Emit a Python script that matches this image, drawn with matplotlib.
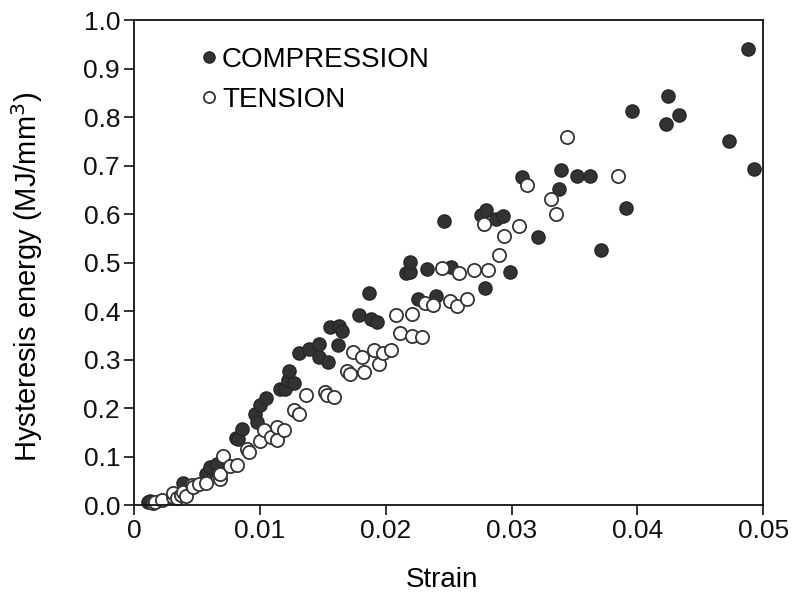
import numpy as np
from matplotlib import pyplot as plt

# compression data (filled markers)
comp_strain = [0.0011, 0.0013, 0.0039, 0.0057, 0.0060, 0.0066, 0.0081, 0.0083, 0.0086, 0.0096,
               0.0098, 0.0100, 0.0105, 0.0116, 0.0120, 0.0122, 0.0127, 0.0123, 0.0131, 0.0139,
               0.0147, 0.0147, 0.0154, 0.0156, 0.0163, 0.0165, 0.0162, 0.0179, 0.0187, 0.0188,
               0.0193, 0.0216, 0.0219, 0.0219, 0.0226, 0.0233, 0.0240, 0.0246, 0.0252, 0.0276,
               0.0279, 0.0280, 0.0288, 0.0293, 0.0299, 0.0308, 0.0321, 0.0338, 0.0339, 0.0352,
               0.0362, 0.0371, 0.0391, 0.0396, 0.0423, 0.0424, 0.0433, 0.0473, 0.0488, 0.0493]
comp_energy = [0.007, 0.009, 0.046, 0.065, 0.079, 0.085, 0.138, 0.136, 0.156, 0.187,
               0.172, 0.207, 0.220, 0.239, 0.239, 0.258, 0.251, 0.276, 0.313, 0.322,
               0.306, 0.332, 0.296, 0.368, 0.370, 0.360, 0.331, 0.393, 0.437, 0.384,
               0.377, 0.479, 0.480, 0.501, 0.425, 0.488, 0.432, 0.586, 0.491, 0.599,
               0.447, 0.609, 0.590, 0.596, 0.481, 0.678, 0.553, 0.653, 0.692, 0.680,
               0.680, 0.527, 0.614, 0.813, 0.787, 0.845, 0.805, 0.751, 0.942, 0.694]

# tension data (open markers)
ten_strain = [0.0015, 0.0017, 0.0022, 0.0031, 0.0031, 0.0034, 0.0037, 0.0039, 0.0041, 0.0046,
              0.0047, 0.0052, 0.0057, 0.0068, 0.0068, 0.0071, 0.0076, 0.0082, 0.0090, 0.0091,
              0.0100, 0.0103, 0.0109, 0.0114, 0.0114, 0.0119, 0.0127, 0.0131, 0.0137, 0.0152,
              0.0153, 0.0159, 0.0169, 0.0172, 0.0174, 0.0181, 0.0183, 0.0191, 0.0195, 0.0198,
              0.0204, 0.0208, 0.0211, 0.0221, 0.0221, 0.0229, 0.0231, 0.0238, 0.0245, 0.0251,
              0.0257, 0.0258, 0.0265, 0.0270, 0.0278, 0.0281, 0.0290, 0.0294, 0.0306, 0.0312,
              0.0331, 0.0335, 0.0344, 0.0385]
ten_energy = [0.004, 0.007, 0.010, 0.016, 0.025, 0.014, 0.021, 0.027, 0.019, 0.041,
              0.038, 0.043, 0.045, 0.053, 0.065, 0.101, 0.081, 0.083, 0.115, 0.110,
              0.133, 0.155, 0.141, 0.134, 0.161, 0.154, 0.196, 0.188, 0.227, 0.234,
              0.227, 0.224, 0.277, 0.271, 0.316, 0.306, 0.275, 0.320, 0.291, 0.313,
              0.320, 0.393, 0.356, 0.395, 0.348, 0.346, 0.416, 0.412, 0.489, 0.422,
              0.410, 0.478, 0.426, 0.486, 0.579, 0.485, 0.517, 0.556, 0.576, 0.661,
              0.631, 0.601, 0.759, 0.679]

xticks = [0, 0.01, 0.02, 0.03, 0.04, 0.05]
xtick_labels = ['0', '0.01', '0.02', '0.03', '0.04', '0.05']
yticks = np.arange(0, 1.01, 0.1)

plt.rcParams['font.family'] = ['Liberation Sans', 'DejaVu Sans']

fig = plt.figure(figsize=(8, 6.02), dpi=100)
ax = fig.add_axes([0.1675, 0.161, 0.7865, 0.805])

ax.plot(comp_strain, comp_energy, 'o', ms=9.5, mfc='#333333', mec='#262626', mew=1.0,
        label='COMPRESSION', clip_on=False)
ax.plot(ten_strain, ten_energy, 'o', ms=9.5, mfc='white', mec='#333333', mew=1.3,
        label='TENSION', clip_on=False)

ax.set_xlim(0, 0.05)
ax.set_ylim(0, 1.0)
ax.set_xticks(xticks)
ax.set_xticklabels(xtick_labels, fontsize=19)
ax.set_yticks(yticks)
ax.set_yticklabels(['%.1f' % v for v in yticks], fontsize=19)

ax.tick_params(axis='both', direction='out', length=7, width=1.2, colors='#111111')
ax.tick_params(axis='x', pad=3)
ax.tick_params(axis='y', pad=3)
for s in ax.spines.values():
    s.set_linewidth(1.3)
    s.set_color('#111111')

ax.set_xlabel('Strain', fontsize=20)
ax.xaxis.set_label_coords(0.49, -0.128)
ax.set_ylabel('Hysteresis energy (MJ/mm$^3$)', fontsize=21)
ax.yaxis.set_label_coords(-0.142, 0.47)

ax.legend(loc='upper left', bbox_to_anchor=(0.078, 0.985), frameon=False, fontsize=20,
          handlelength=0.5, handletextpad=0.2, labelspacing=0.5, markerscale=0.85,
          borderpad=0.2)

plt.savefig('out.png', dpi=100)
